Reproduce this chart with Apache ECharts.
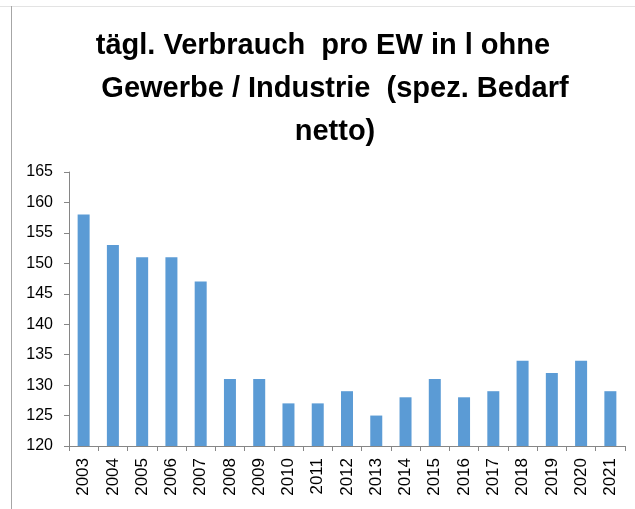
<!DOCTYPE html>
<html>
	<head>
		<meta charset="utf-8">
		<title>Verbrauch</title>
		<script src="https://cdn.jsdelivr.net/npm/echarts@6/dist/echarts.min.js"></script>
		<style>
			html, body {
				margin: 0;
				padding: 0;
				background: #ffffff;
			}
			#chart {
				width: 635px;
				height: 509px;
			}
			.edge-left {
				position: absolute;
				left: 11px;
				top: 6px;
				width: 1px;
				height: 503px;
				background: #a6a6a6;
			}
			.edge-top {
				position: absolute;
				left: 0;
				top: 6px;
				width: 635px;
				height: 1px;
				background: #e3e3e3;
			}
		</style>
	</head>
	<body>
		<div id="chart"></div>
		<div class="edge-top"></div>
		<div class="edge-left"></div>
		<script>
			var years = ['2003', '2004', '2005', '2006', '2007', '2008', '2009', '2010', '2011', '2012',
				'2013', '2014', '2015', '2016', '2017', '2018', '2019', '2020', '2021'];
			var verbrauch = [158, 153, 151, 151, 147, 131, 131, 127, 127, 129,
				125, 128, 131, 128, 129, 134, 132, 134, 129];
			var yMin = 120, yMax = 165, yStep = 5;
			// erste Zeile steht im Original etwas weiter links (Leerzeichen am Ende)
			var titleText = 'tägl. Verbrauch  pro EW in l ohne   \nGewerbe / Industrie  (spez. Bedarf\nnetto)';

			var chart = echarts.init(document.getElementById('chart'));

			var option = {
				animation: false,
				title: {
					text: titleText,
					left: 330,
					textAlign: 'center',
					top: 19,
					textStyle: {
						fontFamily: 'Liberation Sans',
						fontWeight: 'bold',
						fontSize: 29,
						lineHeight: 43,
						color: '#000000'
					}
				},
				grid: {
					left: 69,
					right: 10,
					top: 172,
					bottom: 63
				},
				xAxis: {
					type: 'category',
					data: years,
					axisLine: { lineStyle: { color: '#868686' } },
					axisTick: { show: true, length: 5, lineStyle: { color: '#868686' } },
					axisLabel: {
						rotate: 90,
						margin: 12,
						fontFamily: 'Liberation Sans',
						fontSize: 17,
						color: '#000000'
					}
				},
				yAxis: {
					type: 'value',
					min: yMin,
					max: yMax,
					interval: yStep,
					axisLine: { show: true, lineStyle: { color: '#868686' } },
					axisTick: { show: true, length: 5, lineStyle: { color: '#868686' } },
					splitLine: { show: false },
					axisLabel: {
						margin: 16,
						fontFamily: 'Liberation Sans',
						fontSize: 16,
						color: '#000000'
					}
				},
				series: [{
					type: 'bar',
					data: verbrauch,
					barWidth: 12,
					itemStyle: { color: '#5b9bd5' }
				}]
			};
			chart.setOption(option);
		</script>
	</body>
</html>
